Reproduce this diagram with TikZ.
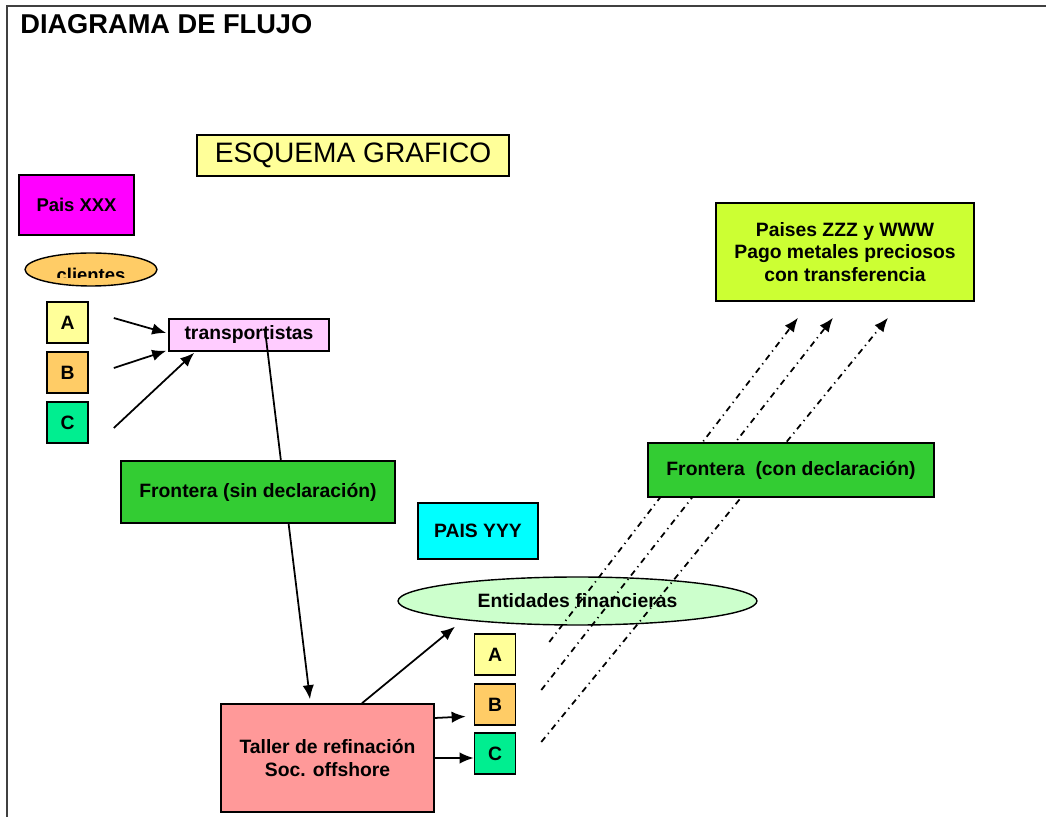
\documentclass[tikz,border=0pt]{standalone}
\usepackage{fontspec}
\setmainfont{Liberation Sans}
\usetikzlibrary{shapes.geometric, arrows.meta, calc}

\definecolor{amarilloclaro}{RGB}{255,255,153}
\definecolor{magentaxxx}{RGB}{255,0,255}
\definecolor{naranja}{RGB}{255,204,102}
\definecolor{verdeagua}{RGB}{0,238,144}
\definecolor{rosa}{RGB}{255,204,255}
\definecolor{verdefrontera}{RGB}{51,204,51}
\definecolor{cian}{RGB}{0,255,255}
\definecolor{verdeclaro}{RGB}{204,255,204}
\definecolor{salmon}{RGB}{255,153,153}
\definecolor{lima}{RGB}{204,255,51}

\tikzset{
  caja/.style = {draw = black, line width = 0.9pt, inner sep = 0pt, align = center,
                 font = \fontsize{11}{13}\selectfont\bfseries},
  ovalo/.style = {ellipse, draw = black, line width = 0.8pt, inner sep = 0pt,
                  font = \fontsize{11}{13}\selectfont\bfseries},
  letra/.style = {caja, minimum width = 0.82cm, minimum height = 0.82cm},
  flecha/.style = {black, line width = 1pt, -{Latex[length = 8pt, width = 6.5pt]}},
  flechapunto/.style = {black, line width = 1pt,
                        dash pattern = on 3.5pt off 2.5pt on 0.7pt off 2.5pt,
                        -{Latex[length = 8pt, width = 6.5pt]}},
  marco/.style = {draw = black!75, line width = 1.4pt}
}

\begin{document}
\begin{tikzpicture}[x = 0.02cm, y = -0.02cm]
\useasboundingbox (0, 0) rectangle (1046, 817);
\draw[marco] (7, 817) -- (7, 6) -- (1046, 6);

\node[anchor = base west, inner sep = 0pt, font = \fontsize{15.5}{18}\selectfont\bfseries] (titulo) at (20, 34) {DIAGRAMA DE FLUJO};
\node[caja, fill = amarilloclaro, minimum width = 6.24cm, minimum height = 0.82cm, font = \fontsize{16}{19}\selectfont] (esquema) at (353, 155.5) {ESQUEMA GRAFICO};

\node[caja, fill = magentaxxx, minimum width = 2.3cm, minimum height = 1.2cm, font = \fontsize{10.5}{13}\selectfont\bfseries] (paisxxx) at (76.5, 205) {Pais XXX};
\node[ovalo, fill = naranja, minimum width = 2.64cm, minimum height = 0.66cm] (clientes) at (91, 269.5) {};
\begin{scope}
\clip (25, 250) rectangle (157, 278);
\node[anchor = base, inner sep = 0pt, font = \fontsize{10.5}{13}\selectfont\bfseries] (clientestxt) at (91, 282) {clientes};
\end{scope}

\node[letra, fill = amarilloclaro] (cliA) at (67.5, 322.5) {A};
\node[letra, fill = naranja] (cliB) at (67.5, 372.5) {B};
\node[letra, fill = verdeagua] (cliC) at (67.5, 422.5) {C};
\node[caja, fill = rosa, minimum width = 3.2cm, minimum height = 0.64cm] (transp) at (249, 335) {transportistas};

\draw[flecha] ($(cliA.east) + (25, -4.5)$) -- ($(transp.west) + (-2, -2)$);
\draw[flecha] ($(cliB.east) + (25, -4.5)$) -- ($(transp.south west) + (-2, -1)$);
\draw[flecha] ($(cliC.east) + (25, 5.5)$) -- ($(transp.south west) + (26, 1)$);

\node[caja, fill = cian, minimum width = 2.4cm, minimum height = 1.12cm] (paisyyy) at (478, 531) {PAIS YYY};
\node[caja, fill = lima, minimum width = 5.16cm, minimum height = 1.96cm] (paises) at (845, 252) {Paises ZZZ y WWW\\Pago metales preciosos\\con transferencia};
\node[ovalo, fill = verdeclaro, minimum width = 7.18cm, minimum height = 0.96cm] (entidades) at (577.5, 601) {Entidades financieras};
\node[letra, fill = amarilloclaro] (entA) at (495, 654.5) {A};
\node[letra, fill = naranja] (entB) at (495, 704.5) {B};
\node[letra, fill = verdeagua] (entC) at (495, 753.5) {C};
\node[caja, fill = salmon, minimum width = 4.26cm, minimum height = 2.16cm] (taller) at (327.5, 758) {Taller de refinación\\Soc. offshore};

\draw[flecha] ($(transp.center) + (16, -5)$) -- ($(taller.north) + (-17.5, -4)$);
\draw[flecha] ($(taller.north) + (34.5, 0)$) -- ($(entidades.south) + (-122.5, 1)$);
\draw[flecha] ($(taller.east) + (0, -40)$) -- ($(entB.west) + (-8, 12)$);
\draw[flecha] (taller.east) -- (taller.east -| entC.west);

\draw[flechapunto] ($(entA.east) + (33, -12.5)$) -- ($(paises.south) + (-47, 16)$);
\draw[flechapunto] ($(entB.east) + (25, -14.5)$) -- ($(paises.south) + (-12, 16)$);
\draw[flechapunto] ($(entC.east) + (25, -11.5)$) -- ($(paises.south) + (43, 16)$);

\node[caja, fill = verdefrontera, minimum width = 5.48cm, minimum height = 1.24cm] (fronterasin) at (258, 492) {Frontera (sin declaración)};
\node[caja, fill = verdefrontera, minimum width = 5.72cm, minimum height = 1.08cm] (fronteracon) at (791, 470) {Frontera\ \ (con declaración)};
\end{tikzpicture}
\end{document}
